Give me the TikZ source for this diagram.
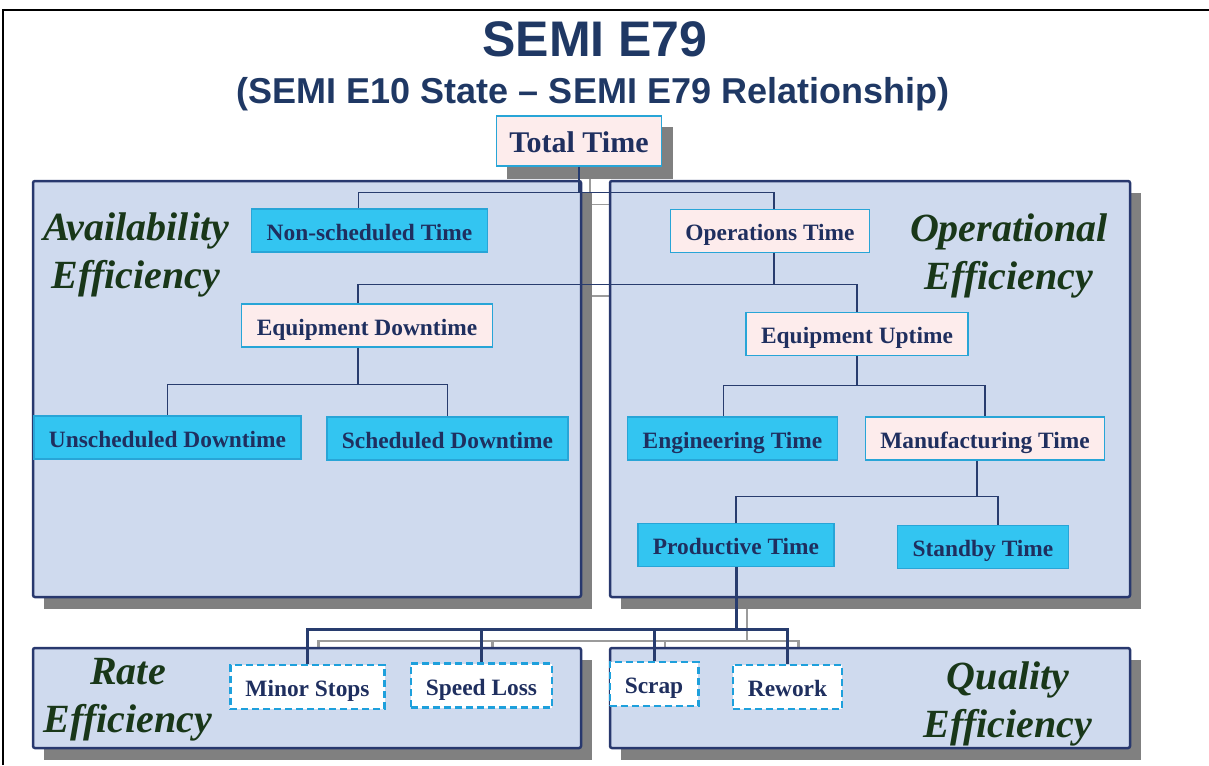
\documentclass[tikz,border=0pt]{standalone}
\usepackage{fontspec}
\setmainfont{Liberation Serif}
\newfontfamily\headfont[Ligatures=TeX]{Liberation Sans}
\usetikzlibrary{calc}
\pgfdeclarelayer{shade}
\pgfdeclarelayer{panel}
\pgfsetlayers{shade,panel,main}
\definecolor{titleblue}{RGB}{31,56,100}
\definecolor{boxtext}{RGB}{31,47,95}
\definecolor{effgreen}{RGB}{25,55,25}
\definecolor{panelfill}{RGB}{207,218,238}
\definecolor{panelline}{RGB}{40,56,110}
\definecolor{shadegray}{RGB}{128,128,128}
\definecolor{linkgray}{RGB}{155,155,155}
\definecolor{linkblue}{RGB}{40,60,110}
\definecolor{pinkfill}{RGB}{253,236,236}
\definecolor{cyanfill}{RGB}{51,197,241}
\definecolor{cyanline}{RGB}{40,165,215}
\definecolor{dashcyan}{RGB}{30,160,220}
\tikzset{
    x=1pt, y=-1pt,
    box/.style={rectangle, line width=1.3, inner xsep=15, inner ysep=0,
        minimum height=43, text height=19, text depth=0, text=boxtext,
        font=\bfseries\fontsize{23.4}{28}\selectfont},
    pinkbox/.style={box, draw=cyanline, fill=pinkfill},
    cyanbox/.style={box, draw=cyanline, fill=cyanfill},
    lossbox/.style={box, draw=dashcyan, fill=white, line width=2.5,
        dash pattern=on 7pt off 4pt, minimum height=44},
    panel/.style={draw=panelline, fill=panelfill, line width=2.5, rounded corners=2},
    shade/.style={fill=shadegray},
    link/.style={draw=linkblue, line width=1.3},
    biglink/.style={draw=linkblue, line width=3},
    linkshade/.style={draw=linkgray, line width=1.5},
    effi/.style={align=center, text=effgreen,
        font=\bfseries\itshape\fontsize{40}{48}\selectfont},
}
\begin{document}
\begin{tikzpicture}
    \useasboundingbox (0,0) rectangle (1209,765);
    \draw[line width=2.5] (3,765) -- (3,10) -- (1209,10);

    \node[anchor=base, text=titleblue, font=\headfont\bfseries\fontsize{50}{60}\selectfont]
        (title) at (595,57) {SEMI E79};
    \node[anchor=base, text=titleblue, font=\headfont\bfseries\fontsize{36}{42}\selectfont]
        (subtitle) at (593,104) {(SEMI E10 State \textendash{} SEMI E79 Relationship)};

    \node[pinkbox, minimum height=50, inner xsep=13, text height=22,
        font=\bfseries\fontsize{30}{36}\selectfont]
        (total) at (579,141) {Total Time};

    \node[cyanbox] (nonsched) at (369.5,230.5) {Non-scheduled Time};
    \node[pinkbox] (opstime) at (770,231) {Operations Time};
    \node[pinkbox] (eqdown) at (367,325.5) {Equipment Downtime};
    \node[pinkbox] (equp) at (857,334) {Equipment Uptime};
    \node[cyanbox] (unsched) at (167.5,437.5) {Unscheduled Downtime};
    \node[cyanbox] (sched) at (447.5,438.5) {Scheduled Downtime};
    \node[cyanbox] (eng) at (732.5,438.5) {Engineering Time};
    \node[pinkbox] (manuf) at (985,438.5) {Manufacturing Time};
    \node[cyanbox] (prod) at (736,545) {Productive Time};
    \node[cyanbox] (standby) at (983,547) {Standby Time};

    \node[lossbox] (minor) at (307.5,687) {Minor Stops};
    \node[lossbox] (speed) at (481.5,685.5) {Speed Loss};
    \node[lossbox] (scrap) at (654,684) {Scrap};
    \node[lossbox] (rework) at (787.5,687) {Rework};

    \node[effi] (availab) at (136,255) {Availability\\Efficiency};
    \node[effi] (operat) at (1009,256) {Operational\\Efficiency};
    \node[effi] (rate) at (128,700) {Rate\\Efficiency};
    \node[effi] (quality) at (1008,704) {Quality\\Efficiency};

    \draw[link] (total.south) -- ++(0,26) coordinate (topjoin) -| ([xshift=-11]nonsched.north);
    \draw[link] (topjoin) -| ([xshift=4]opstime.north);
    \draw[link] ([xshift=4]opstime.south) -- ++(0,31) coordinate (opsjoin) -| ([xshift=-9]eqdown.north);
    \draw[link] (opsjoin) -| (equp.north);
    \draw[link] ([xshift=-9]eqdown.south) -- ++(0,37) coordinate (downjoin) -| (unsched.north);
    \draw[link] (downjoin) -| (sched.north);
    \draw[link] (equp.south) -- ++(0,29) coordinate (upjoin) -| ([xshift=-9]eng.north);
    \draw[link] (upjoin) -| (manuf.north);
    \draw[link] ([xshift=-8]manuf.south) -- ++(0,36) coordinate (manjoin) -| (prod.north);
    \draw[link] (manjoin) -| ([xshift=15]standby.north);

    \draw[biglink] (prod.south) -- ++(0,62) coordinate (lossjoin) -| (minor.north);
    \draw[biglink] (lossjoin) -| (speed.north);
    \draw[biglink] (lossjoin) -| (scrap.north);
    \draw[biglink] (lossjoin) -| (rework.north);

    \begin{pgfonlayer}{panel}
        \draw[panel] (33,181) rectangle (581,597);
        \draw[panel] (610,181) rectangle (1130,597);
        \draw[panel] (33,648) rectangle (581,748);
        \draw[panel] (610,648) rectangle (1130,748);
    \end{pgfonlayer}

    \begin{pgfonlayer}{shade}
        \begin{scope}[transform canvas={shift={(11pt,-12pt)}}]
            \draw[linkshade] (total.south) -- (topjoin) -| (nonsched.north);
            \draw[linkshade] (topjoin) -| (opstime.north);
            \draw[linkshade] (opsjoin) -| (eqdown.north);
            \draw[linkshade] (opsjoin) -| (equp.north);
            \draw[linkshade, line width=2.5] (prod.south) -- (lossjoin) -| (minor.north);
            \draw[linkshade, line width=2.5] (lossjoin) -| (speed.north);
            \draw[linkshade, line width=2.5] (lossjoin) -| (scrap.north);
            \draw[linkshade, line width=2.5] (lossjoin) -| (rework.north);
        \end{scope}
        \fill[shade] ([shift={(11,12)}]total.south west) rectangle ([shift={(11,12)}]total.north east);
        \fill[shade] (44,193) rectangle (592,609);
        \fill[shade] (621,193) rectangle (1141,609);
        \fill[shade] (44,660) rectangle (592,760);
        \fill[shade] (621,660) rectangle (1141,760);
    \end{pgfonlayer}
\end{tikzpicture}
\end{document}
